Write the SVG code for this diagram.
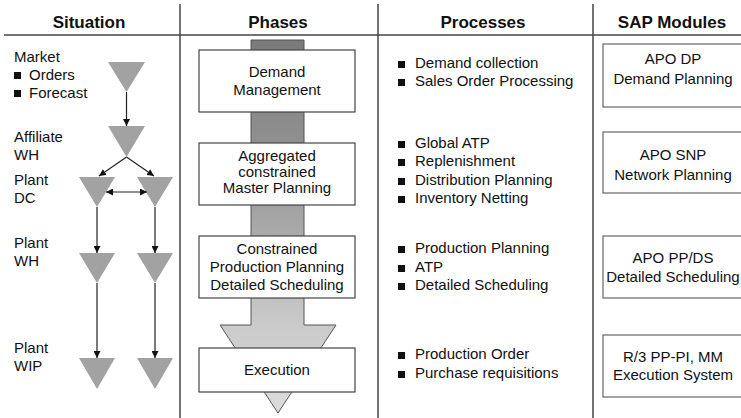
<svg xmlns="http://www.w3.org/2000/svg" width="741" height="418" viewBox="0 0 741 418">
<style>
text{font-family:"Liberation Sans",Arial,sans-serif;fill:#111}
.h{font-size:17px;font-weight:bold;text-anchor:middle}
.t{font-size:15px}
.c{text-anchor:middle}
.grid{stroke:#444;stroke-width:1.5;fill:none}
.box{fill:#fff;stroke:#444;stroke-width:1.2}
.sbox{fill:#fff;stroke:#666;stroke-width:1.2}
.tri{fill:#a2a2a2}
.conn{stroke:#222;stroke-width:1.2;fill:none}
.b{fill:#111}
</style>
<defs>
<linearGradient id="g" gradientUnits="userSpaceOnUse" x1="0" y1="40" x2="0" y2="413">
<stop offset="0" stop-color="#7a7a7a"/>
<stop offset="0.3" stop-color="#929292"/>
<stop offset="0.55" stop-color="#adadad"/>
<stop offset="0.75" stop-color="#c9c9c9"/>
<stop offset="1" stop-color="#dcdcdc"/>
</linearGradient>
<marker id="ah" markerUnits="userSpaceOnUse" markerWidth="7" markerHeight="7" refX="7" refY="3.5" orient="auto-start-reverse">
<path d="M0,0 L7,3.5 L0,7 z" fill="#111"/>
</marker>
</defs>
<rect width="741" height="418" fill="#fff"/>

<g id="grid">
<line class="grid" x1="4" y1="35" x2="741" y2="35"/>
<line class="grid" x1="180" y1="4" x2="180" y2="418"/>
<line class="grid" x1="378" y1="4" x2="378" y2="418"/>
<line class="grid" x1="593" y1="4" x2="593" y2="418"/>
</g>

<g id="headers">
<text class="h" x="89" y="28">Situation</text>
<text class="h" x="278" y="28">Phases</text>
<text class="h" x="483" y="28">Processes</text>
<text class="h" x="672" y="28">SAP Modules</text>
</g>

<g id="situation-labels">
<text class="t" x="14" y="62">Market</text>
<rect class="b" x="14" y="72" width="7" height="7"/><text class="t" x="29" y="80">Orders</text>
<rect class="b" x="14" y="90" width="7" height="7"/><text class="t" x="29" y="98">Forecast</text>
<text class="t" x="14" y="142">Affiliate</text>
<text class="t" x="14" y="160">WH</text>
<text class="t" x="14" y="185">Plant</text>
<text class="t" x="14" y="203">DC</text>
<text class="t" x="14" y="248">Plant</text>
<text class="t" x="14" y="266">WH</text>
<text class="t" x="14" y="353">Plant</text>
<text class="t" x="14" y="371">WIP</text>
</g>

<g id="tri-market"><polygon class="tri" points="108,62 145,62 126.5,92"/></g>
<g id="tri-affiliate"><polygon class="tri" points="108,126 145,126 126.5,157"/></g>
<g id="tri-dc-left"><polygon class="tri" points="79,177 115,177 97,207"/></g>
<g id="tri-dc-right"><polygon class="tri" points="137,177 173,177 155,207"/></g>
<g id="tri-wh-left"><polygon class="tri" points="79,253 115,253 97,283"/></g>
<g id="tri-wh-right"><polygon class="tri" points="137,253 173,253 155,283"/></g>
<g id="tri-wip-left"><polygon class="tri" points="79,358 115,358 97,389"/></g>
<g id="tri-wip-right"><polygon class="tri" points="137,358 173,358 155,389"/></g>

<g id="connectors">
<line class="conn" x1="126.5" y1="92" x2="126.5" y2="126" marker-end="url(#ah)"/>
<line class="conn" x1="126.5" y1="157" x2="99" y2="176" marker-end="url(#ah)"/>
<line class="conn" x1="126.5" y1="157" x2="154" y2="176" marker-end="url(#ah)"/>
<line class="conn" x1="106" y1="192" x2="147" y2="192" marker-start="url(#ah)" marker-end="url(#ah)"/>
<line class="conn" x1="97" y1="207" x2="97" y2="253" marker-end="url(#ah)"/>
<line class="conn" x1="155" y1="207" x2="155" y2="253" marker-end="url(#ah)"/>
<line class="conn" x1="97" y1="283" x2="97" y2="358" marker-end="url(#ah)"/>
<line class="conn" x1="155" y1="283" x2="155" y2="358" marker-end="url(#ah)"/>
</g>

<g id="phase-arrow">
<path d="M251,40 H304 V325 H336 L278,413 L220,325 H251 Z" fill="url(#g)" stroke="#555" stroke-width="1"/>
</g>

<g id="phase-demand">
<rect class="box" x="199" y="50" width="156" height="62"/>
<text class="t c" x="277" y="77">Demand</text>
<text class="t c" x="277" y="95">Management</text>
</g>
<g id="phase-master">
<rect class="box" x="199" y="143" width="156" height="62"/>
<text class="t c" x="277" y="161">Aggregated</text>
<text class="t c" x="277" y="177">constrained</text>
<text class="t c" x="277" y="193">Master Planning</text>
</g>
<g id="phase-production">
<rect class="box" x="199" y="236" width="156" height="62"/>
<text class="t c" x="277" y="254">Constrained</text>
<text class="t c" x="277" y="272">Production Planning</text>
<text class="t c" x="277" y="290">Detailed Scheduling</text>
</g>
<g id="phase-execution">
<rect class="box" x="199" y="348" width="156" height="44"/>
<text class="t c" x="277" y="375">Execution</text>
</g>

<g id="processes">
<rect class="b" x="398" y="61" width="7" height="7"/><text class="t" x="415" y="68">Demand collection</text>
<rect class="b" x="398" y="79" width="7" height="7"/><text class="t" x="415" y="86">Sales Order Processing</text>
<rect class="b" x="398" y="141" width="7" height="7"/><text class="t" x="415" y="148">Global ATP</text>
<rect class="b" x="398" y="159" width="7" height="7"/><text class="t" x="415" y="166">Replenishment</text>
<rect class="b" x="398" y="178" width="7" height="7"/><text class="t" x="415" y="185">Distribution Planning</text>
<rect class="b" x="398" y="196" width="7" height="7"/><text class="t" x="415" y="203">Inventory Netting</text>
<rect class="b" x="398" y="246" width="7" height="7"/><text class="t" x="415" y="253">Production Planning</text>
<rect class="b" x="398" y="265" width="7" height="7"/><text class="t" x="415" y="272">ATP</text>
<rect class="b" x="398" y="283" width="7" height="7"/><text class="t" x="415" y="290">Detailed Scheduling</text>
<rect class="b" x="398" y="352" width="7" height="7"/><text class="t" x="415" y="359">Production Order</text>
<rect class="b" x="398" y="371" width="7" height="7"/><text class="t" x="415" y="378">Purchase requisitions</text>
</g>

<g id="sap-dp">
<rect class="sbox" x="603" y="44" width="145" height="63"/>
<text class="t c" x="673" y="64">APO DP</text>
<text class="t c" x="673" y="84">Demand Planning</text>
</g>
<g id="sap-snp">
<rect class="sbox" x="603" y="132" width="145" height="61"/>
<text class="t c" x="673" y="160">APO SNP</text>
<text class="t c" x="673" y="180">Network Planning</text>
</g>
<g id="sap-ppds">
<rect class="sbox" x="603" y="236" width="145" height="62"/>
<text class="t c" x="673" y="263">APO PP/DS</text>
<text class="t c" x="673" y="282">Detailed Scheduling</text>
</g>
<g id="sap-r3">
<rect class="sbox" x="603" y="335" width="145" height="62"/>
<text class="t c" x="673" y="362">R/3 PP-PI, MM</text>
<text class="t c" x="673" y="380">Execution System</text>
</g>
</svg>
